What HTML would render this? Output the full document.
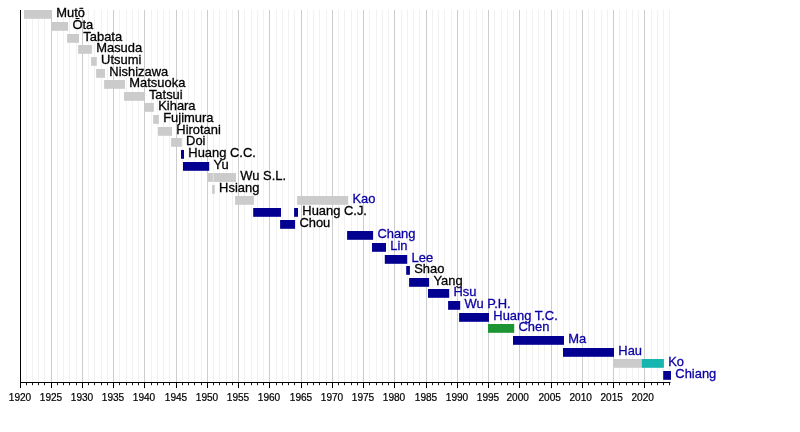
<!DOCTYPE html>
<html><head><meta charset="utf-8"><title>Timeline</title>
<style>
html,body{margin:0;padding:0;background:#fff;}
body{width:800px;height:432px;overflow:hidden;font-family:"Liberation Sans",sans-serif;}
svg{display:block;will-change:transform;}
.lb{font-family:"Liberation Sans",sans-serif;font-size:13.25px;stroke-width:0.3px;}
.ax{font-family:"Liberation Sans",sans-serif;font-size:10.1px;fill:#000;stroke:#000;stroke-width:0.2px;text-anchor:middle;}
</style></head><body>
<svg width="800" height="432" viewBox="0 0 800 432">
<rect width="800" height="432" fill="#fff"/>
<g>
<line x1="26.50" y1="10" x2="26.50" y2="382.5" stroke="#f1f1f1" stroke-width="1"/>
<line x1="32.50" y1="10" x2="32.50" y2="382.5" stroke="#f1f1f1" stroke-width="1"/>
<line x1="38.50" y1="10" x2="38.50" y2="382.5" stroke="#f1f1f1" stroke-width="1"/>
<line x1="44.50" y1="10" x2="44.50" y2="382.5" stroke="#f1f1f1" stroke-width="1"/>
<line x1="51.50" y1="10" x2="51.50" y2="382.5" stroke="#cdcdcd" stroke-width="1"/>
<line x1="57.50" y1="10" x2="57.50" y2="382.5" stroke="#f1f1f1" stroke-width="1"/>
<line x1="63.50" y1="10" x2="63.50" y2="382.5" stroke="#f1f1f1" stroke-width="1"/>
<line x1="69.50" y1="10" x2="69.50" y2="382.5" stroke="#f1f1f1" stroke-width="1"/>
<line x1="76.50" y1="10" x2="76.50" y2="382.5" stroke="#f1f1f1" stroke-width="1"/>
<line x1="82.50" y1="10" x2="82.50" y2="382.5" stroke="#cdcdcd" stroke-width="1"/>
<line x1="88.50" y1="10" x2="88.50" y2="382.5" stroke="#f1f1f1" stroke-width="1"/>
<line x1="94.50" y1="10" x2="94.50" y2="382.5" stroke="#f1f1f1" stroke-width="1"/>
<line x1="101.50" y1="10" x2="101.50" y2="382.5" stroke="#f1f1f1" stroke-width="1"/>
<line x1="107.50" y1="10" x2="107.50" y2="382.5" stroke="#f1f1f1" stroke-width="1"/>
<line x1="113.50" y1="10" x2="113.50" y2="382.5" stroke="#cdcdcd" stroke-width="1"/>
<line x1="119.50" y1="10" x2="119.50" y2="382.5" stroke="#f1f1f1" stroke-width="1"/>
<line x1="126.50" y1="10" x2="126.50" y2="382.5" stroke="#f1f1f1" stroke-width="1"/>
<line x1="132.50" y1="10" x2="132.50" y2="382.5" stroke="#f1f1f1" stroke-width="1"/>
<line x1="138.50" y1="10" x2="138.50" y2="382.5" stroke="#f1f1f1" stroke-width="1"/>
<line x1="144.50" y1="10" x2="144.50" y2="382.5" stroke="#cdcdcd" stroke-width="1"/>
<line x1="151.50" y1="10" x2="151.50" y2="382.5" stroke="#f1f1f1" stroke-width="1"/>
<line x1="157.50" y1="10" x2="157.50" y2="382.5" stroke="#f1f1f1" stroke-width="1"/>
<line x1="163.50" y1="10" x2="163.50" y2="382.5" stroke="#f1f1f1" stroke-width="1"/>
<line x1="169.50" y1="10" x2="169.50" y2="382.5" stroke="#f1f1f1" stroke-width="1"/>
<line x1="176.50" y1="10" x2="176.50" y2="382.5" stroke="#cdcdcd" stroke-width="1"/>
<line x1="182.50" y1="10" x2="182.50" y2="382.5" stroke="#f1f1f1" stroke-width="1"/>
<line x1="188.50" y1="10" x2="188.50" y2="382.5" stroke="#f1f1f1" stroke-width="1"/>
<line x1="194.50" y1="10" x2="194.50" y2="382.5" stroke="#f1f1f1" stroke-width="1"/>
<line x1="201.50" y1="10" x2="201.50" y2="382.5" stroke="#f1f1f1" stroke-width="1"/>
<line x1="207.50" y1="10" x2="207.50" y2="382.5" stroke="#cdcdcd" stroke-width="1"/>
<line x1="213.50" y1="10" x2="213.50" y2="382.5" stroke="#f1f1f1" stroke-width="1"/>
<line x1="219.50" y1="10" x2="219.50" y2="382.5" stroke="#f1f1f1" stroke-width="1"/>
<line x1="226.50" y1="10" x2="226.50" y2="382.5" stroke="#f1f1f1" stroke-width="1"/>
<line x1="232.50" y1="10" x2="232.50" y2="382.5" stroke="#f1f1f1" stroke-width="1"/>
<line x1="238.50" y1="10" x2="238.50" y2="382.5" stroke="#cdcdcd" stroke-width="1"/>
<line x1="244.50" y1="10" x2="244.50" y2="382.5" stroke="#f1f1f1" stroke-width="1"/>
<line x1="251.50" y1="10" x2="251.50" y2="382.5" stroke="#f1f1f1" stroke-width="1"/>
<line x1="257.50" y1="10" x2="257.50" y2="382.5" stroke="#f1f1f1" stroke-width="1"/>
<line x1="263.50" y1="10" x2="263.50" y2="382.5" stroke="#f1f1f1" stroke-width="1"/>
<line x1="269.50" y1="10" x2="269.50" y2="382.5" stroke="#cdcdcd" stroke-width="1"/>
<line x1="276.50" y1="10" x2="276.50" y2="382.5" stroke="#f1f1f1" stroke-width="1"/>
<line x1="282.50" y1="10" x2="282.50" y2="382.5" stroke="#f1f1f1" stroke-width="1"/>
<line x1="288.50" y1="10" x2="288.50" y2="382.5" stroke="#f1f1f1" stroke-width="1"/>
<line x1="294.50" y1="10" x2="294.50" y2="382.5" stroke="#f1f1f1" stroke-width="1"/>
<line x1="301.50" y1="10" x2="301.50" y2="382.5" stroke="#cdcdcd" stroke-width="1"/>
<line x1="307.50" y1="10" x2="307.50" y2="382.5" stroke="#f1f1f1" stroke-width="1"/>
<line x1="313.50" y1="10" x2="313.50" y2="382.5" stroke="#f1f1f1" stroke-width="1"/>
<line x1="319.50" y1="10" x2="319.50" y2="382.5" stroke="#f1f1f1" stroke-width="1"/>
<line x1="326.50" y1="10" x2="326.50" y2="382.5" stroke="#f1f1f1" stroke-width="1"/>
<line x1="332.50" y1="10" x2="332.50" y2="382.5" stroke="#cdcdcd" stroke-width="1"/>
<line x1="338.50" y1="10" x2="338.50" y2="382.5" stroke="#f1f1f1" stroke-width="1"/>
<line x1="344.50" y1="10" x2="344.50" y2="382.5" stroke="#f1f1f1" stroke-width="1"/>
<line x1="351.50" y1="10" x2="351.50" y2="382.5" stroke="#f1f1f1" stroke-width="1"/>
<line x1="357.50" y1="10" x2="357.50" y2="382.5" stroke="#f1f1f1" stroke-width="1"/>
<line x1="363.50" y1="10" x2="363.50" y2="382.5" stroke="#cdcdcd" stroke-width="1"/>
<line x1="369.50" y1="10" x2="369.50" y2="382.5" stroke="#f1f1f1" stroke-width="1"/>
<line x1="376.50" y1="10" x2="376.50" y2="382.5" stroke="#f1f1f1" stroke-width="1"/>
<line x1="382.50" y1="10" x2="382.50" y2="382.5" stroke="#f1f1f1" stroke-width="1"/>
<line x1="388.50" y1="10" x2="388.50" y2="382.5" stroke="#f1f1f1" stroke-width="1"/>
<line x1="394.50" y1="10" x2="394.50" y2="382.5" stroke="#cdcdcd" stroke-width="1"/>
<line x1="401.50" y1="10" x2="401.50" y2="382.5" stroke="#f1f1f1" stroke-width="1"/>
<line x1="407.50" y1="10" x2="407.50" y2="382.5" stroke="#f1f1f1" stroke-width="1"/>
<line x1="413.50" y1="10" x2="413.50" y2="382.5" stroke="#f1f1f1" stroke-width="1"/>
<line x1="419.50" y1="10" x2="419.50" y2="382.5" stroke="#f1f1f1" stroke-width="1"/>
<line x1="426.50" y1="10" x2="426.50" y2="382.5" stroke="#cdcdcd" stroke-width="1"/>
<line x1="432.50" y1="10" x2="432.50" y2="382.5" stroke="#f1f1f1" stroke-width="1"/>
<line x1="438.50" y1="10" x2="438.50" y2="382.5" stroke="#f1f1f1" stroke-width="1"/>
<line x1="444.50" y1="10" x2="444.50" y2="382.5" stroke="#f1f1f1" stroke-width="1"/>
<line x1="451.50" y1="10" x2="451.50" y2="382.5" stroke="#f1f1f1" stroke-width="1"/>
<line x1="457.50" y1="10" x2="457.50" y2="382.5" stroke="#cdcdcd" stroke-width="1"/>
<line x1="463.50" y1="10" x2="463.50" y2="382.5" stroke="#f1f1f1" stroke-width="1"/>
<line x1="469.50" y1="10" x2="469.50" y2="382.5" stroke="#f1f1f1" stroke-width="1"/>
<line x1="476.50" y1="10" x2="476.50" y2="382.5" stroke="#f1f1f1" stroke-width="1"/>
<line x1="482.50" y1="10" x2="482.50" y2="382.5" stroke="#f1f1f1" stroke-width="1"/>
<line x1="488.50" y1="10" x2="488.50" y2="382.5" stroke="#cdcdcd" stroke-width="1"/>
<line x1="494.50" y1="10" x2="494.50" y2="382.5" stroke="#f1f1f1" stroke-width="1"/>
<line x1="501.50" y1="10" x2="501.50" y2="382.5" stroke="#f1f1f1" stroke-width="1"/>
<line x1="507.50" y1="10" x2="507.50" y2="382.5" stroke="#f1f1f1" stroke-width="1"/>
<line x1="513.50" y1="10" x2="513.50" y2="382.5" stroke="#f1f1f1" stroke-width="1"/>
<line x1="519.50" y1="10" x2="519.50" y2="382.5" stroke="#cdcdcd" stroke-width="1"/>
<line x1="526.50" y1="10" x2="526.50" y2="382.5" stroke="#f1f1f1" stroke-width="1"/>
<line x1="532.50" y1="10" x2="532.50" y2="382.5" stroke="#f1f1f1" stroke-width="1"/>
<line x1="538.50" y1="10" x2="538.50" y2="382.5" stroke="#f1f1f1" stroke-width="1"/>
<line x1="544.50" y1="10" x2="544.50" y2="382.5" stroke="#f1f1f1" stroke-width="1"/>
<line x1="551.50" y1="10" x2="551.50" y2="382.5" stroke="#cdcdcd" stroke-width="1"/>
<line x1="557.50" y1="10" x2="557.50" y2="382.5" stroke="#f1f1f1" stroke-width="1"/>
<line x1="563.50" y1="10" x2="563.50" y2="382.5" stroke="#f1f1f1" stroke-width="1"/>
<line x1="569.50" y1="10" x2="569.50" y2="382.5" stroke="#f1f1f1" stroke-width="1"/>
<line x1="576.50" y1="10" x2="576.50" y2="382.5" stroke="#f1f1f1" stroke-width="1"/>
<line x1="582.50" y1="10" x2="582.50" y2="382.5" stroke="#cdcdcd" stroke-width="1"/>
<line x1="588.50" y1="10" x2="588.50" y2="382.5" stroke="#f1f1f1" stroke-width="1"/>
<line x1="594.50" y1="10" x2="594.50" y2="382.5" stroke="#f1f1f1" stroke-width="1"/>
<line x1="601.50" y1="10" x2="601.50" y2="382.5" stroke="#f1f1f1" stroke-width="1"/>
<line x1="607.50" y1="10" x2="607.50" y2="382.5" stroke="#f1f1f1" stroke-width="1"/>
<line x1="613.50" y1="10" x2="613.50" y2="382.5" stroke="#cdcdcd" stroke-width="1"/>
<line x1="619.50" y1="10" x2="619.50" y2="382.5" stroke="#f1f1f1" stroke-width="1"/>
<line x1="626.50" y1="10" x2="626.50" y2="382.5" stroke="#f1f1f1" stroke-width="1"/>
<line x1="632.50" y1="10" x2="632.50" y2="382.5" stroke="#f1f1f1" stroke-width="1"/>
<line x1="638.50" y1="10" x2="638.50" y2="382.5" stroke="#f1f1f1" stroke-width="1"/>
<line x1="644.50" y1="10" x2="644.50" y2="382.5" stroke="#cdcdcd" stroke-width="1"/>
<line x1="651.50" y1="10" x2="651.50" y2="382.5" stroke="#f1f1f1" stroke-width="1"/>
<line x1="657.50" y1="10" x2="657.50" y2="382.5" stroke="#f1f1f1" stroke-width="1"/>
<line x1="663.50" y1="10" x2="663.50" y2="382.5" stroke="#f1f1f1" stroke-width="1"/>
<line x1="669.50" y1="10" x2="669.50" y2="382.5" stroke="#f1f1f1" stroke-width="1"/>
</g>
<g>
<rect x="24.00" y="10.00" width="28.00" height="8.80" fill="#cbcbcb"/>
<rect x="51.50" y="22.00" width="16.60" height="8.80" fill="#cbcbcb"/>
<rect x="67.10" y="34.00" width="11.90" height="8.80" fill="#cbcbcb"/>
<rect x="78.10" y="45.00" width="13.80" height="8.80" fill="#cbcbcb"/>
<rect x="91.10" y="57.00" width="5.70" height="8.80" fill="#cbcbcb"/>
<rect x="96.10" y="69.00" width="8.90" height="8.80" fill="#cbcbcb"/>
<rect x="104.10" y="80.00" width="20.90" height="8.80" fill="#cbcbcb"/>
<rect x="124.00" y="92.00" width="20.60" height="8.80" fill="#cbcbcb"/>
<rect x="144.10" y="103.00" width="9.80" height="8.80" fill="#cbcbcb"/>
<rect x="153.20" y="115.00" width="5.70" height="8.80" fill="#cbcbcb"/>
<rect x="158.00" y="127.00" width="14.00" height="8.80" fill="#cbcbcb"/>
<rect x="171.10" y="138.00" width="10.70" height="8.80" fill="#cbcbcb"/>
<rect x="181.00" y="150.00" width="3.00" height="8.80" fill="#030091"/>
<rect x="183.00" y="162.00" width="26.20" height="8.80" fill="#030091"/>
<rect x="207.30" y="173.00" width="28.70" height="8.80" fill="#dcdcdc"/>
<rect x="207.30" y="173.00" width="5.40" height="8.80" fill="#cbcbcb"/>
<rect x="214.00" y="173.00" width="22.00" height="8.80" fill="#cbcbcb"/>
<rect x="212.10" y="185.00" width="2.70" height="8.80" fill="#cbcbcb"/>
<rect x="235.10" y="196.00" width="18.80" height="8.80" fill="#cbcbcb"/>
<rect x="297.10" y="196.00" width="51.10" height="8.80" fill="#cbcbcb"/>
<rect x="253.20" y="208.00" width="27.80" height="8.80" fill="#030091"/>
<rect x="294.10" y="208.00" width="3.90" height="8.80" fill="#030091"/>
<rect x="280.10" y="220.00" width="15.00" height="8.80" fill="#030091"/>
<rect x="347.10" y="231.00" width="26.00" height="8.80" fill="#030091"/>
<rect x="372.00" y="243.00" width="14.00" height="8.80" fill="#030091"/>
<rect x="384.80" y="255.00" width="22.40" height="8.80" fill="#030091"/>
<rect x="406.20" y="266.00" width="3.70" height="8.80" fill="#030091"/>
<rect x="409.10" y="278.00" width="20.00" height="8.80" fill="#030091"/>
<rect x="428.00" y="289.00" width="21.20" height="8.80" fill="#030091"/>
<rect x="448.10" y="301.00" width="12.10" height="8.80" fill="#030091"/>
<rect x="459.10" y="313.00" width="29.90" height="8.80" fill="#030091"/>
<rect x="488.00" y="324.00" width="26.20" height="8.80" fill="#1d9534"/>
<rect x="513.00" y="336.00" width="51.00" height="8.80" fill="#030091"/>
<rect x="563.00" y="348.00" width="51.00" height="8.80" fill="#030091"/>
<rect x="613.00" y="359.00" width="28.70" height="8.80" fill="#cbcbcb"/>
<rect x="641.70" y="359.00" width="22.20" height="8.80" fill="#17b5b0"/>
<rect x="663.20" y="371.00" width="7.80" height="8.80" fill="#030091"/>
</g>
<g class="lb">
<text transform="translate(56.30 17.30) scale(0.977 1)" fill="#000" stroke="#000">Mutō</text>
<text transform="translate(72.40 29.30) scale(0.977 1)" fill="#000" stroke="#000">Ōta</text>
<text transform="translate(83.30 41.30) scale(0.977 1)" fill="#000" stroke="#000">Tabata</text>
<text transform="translate(96.20 52.30) scale(0.977 1)" fill="#000" stroke="#000">Masuda</text>
<text transform="translate(101.10 64.30) scale(0.977 1)" fill="#000" stroke="#000">Utsumi</text>
<text transform="translate(109.30 76.30) scale(0.977 1)" fill="#000" stroke="#000">Nishizawa</text>
<text transform="translate(129.30 87.30) scale(0.977 1)" fill="#000" stroke="#000">Matsuoka</text>
<text transform="translate(148.90 99.30) scale(0.977 1)" fill="#000" stroke="#000">Tatsui</text>
<text transform="translate(158.20 110.30) scale(0.977 1)" fill="#000" stroke="#000">Kihara</text>
<text transform="translate(163.20 122.30) scale(0.977 1)" fill="#000" stroke="#000">Fujimura</text>
<text transform="translate(176.30 134.30) scale(0.977 1)" fill="#000" stroke="#000">Hirotani</text>
<text transform="translate(186.10 145.30) scale(0.977 1)" fill="#000" stroke="#000">Doi</text>
<text transform="translate(188.30 157.30) scale(0.977 1)" fill="#000" stroke="#000">Huang C.C.</text>
<text transform="translate(213.50 169.30) scale(0.977 1)" fill="#000" stroke="#000">Yu</text>
<text transform="translate(240.30 180.30) scale(0.977 1)" fill="#000" stroke="#000">Wu S.L.</text>
<text transform="translate(219.10 192.30) scale(0.977 1)" fill="#000" stroke="#000">Hsiang</text>
<text transform="translate(352.50 203.30) scale(0.977 1)" fill="#0c00a4" stroke="#0c00a4">Kao</text>
<text transform="translate(302.30 215.30) scale(0.977 1)" fill="#000" stroke="#000">Huang C.J.</text>
<text transform="translate(299.40 227.30) scale(0.977 1)" fill="#000" stroke="#000">Chou</text>
<text transform="translate(377.40 238.30) scale(0.977 1)" fill="#0c00a4" stroke="#0c00a4">Chang</text>
<text transform="translate(390.30 250.30) scale(0.977 1)" fill="#0c00a4" stroke="#0c00a4">Lin</text>
<text transform="translate(411.50 262.30) scale(0.977 1)" fill="#0c00a4" stroke="#0c00a4">Lee</text>
<text transform="translate(414.20 273.30) scale(0.977 1)" fill="#000" stroke="#000">Shao</text>
<text transform="translate(433.40 285.30) scale(0.977 1)" fill="#000" stroke="#000">Yang</text>
<text transform="translate(453.50 296.30) scale(0.977 1)" fill="#0c00a4" stroke="#0c00a4">Hsu</text>
<text transform="translate(464.50 308.30) scale(0.977 1)" fill="#0c00a4" stroke="#0c00a4">Wu P.H.</text>
<text transform="translate(493.30 320.30) scale(0.977 1)" fill="#0c00a4" stroke="#0c00a4">Huang T.C.</text>
<text transform="translate(518.50 331.30) scale(0.977 1)" fill="#0c00a4" stroke="#0c00a4">Chen</text>
<text transform="translate(568.30 343.30) scale(0.977 1)" fill="#0c00a4" stroke="#0c00a4">Ma</text>
<text transform="translate(618.30 355.30) scale(0.977 1)" fill="#0c00a4" stroke="#0c00a4">Hau</text>
<text transform="translate(668.20 366.30) scale(0.977 1)" fill="#0c00a4" stroke="#0c00a4">Ko</text>
<text transform="translate(675.30 378.30) scale(0.977 1)" fill="#0c00a4" stroke="#0c00a4">Chiang</text>
</g>
<g stroke="#000" stroke-width="1">
<line x1="20.50" y1="10" x2="20.50" y2="388.10"/>
<line x1="20.00" y1="382.50" x2="670.50" y2="382.50"/>
<line x1="26.50" y1="382.50" x2="26.50" y2="385.20" stroke-width="0.9"/>
<line x1="32.50" y1="382.50" x2="32.50" y2="385.20" stroke-width="0.9"/>
<line x1="38.50" y1="382.50" x2="38.50" y2="385.20" stroke-width="0.9"/>
<line x1="44.50" y1="382.50" x2="44.50" y2="385.20" stroke-width="0.9"/>
<line x1="51.50" y1="382.50" x2="51.50" y2="388.10" stroke-width="1.0"/>
<line x1="57.50" y1="382.50" x2="57.50" y2="385.20" stroke-width="0.9"/>
<line x1="63.50" y1="382.50" x2="63.50" y2="385.20" stroke-width="0.9"/>
<line x1="69.50" y1="382.50" x2="69.50" y2="385.20" stroke-width="0.9"/>
<line x1="76.50" y1="382.50" x2="76.50" y2="385.20" stroke-width="0.9"/>
<line x1="82.50" y1="382.50" x2="82.50" y2="388.10" stroke-width="1.0"/>
<line x1="88.50" y1="382.50" x2="88.50" y2="385.20" stroke-width="0.9"/>
<line x1="94.50" y1="382.50" x2="94.50" y2="385.20" stroke-width="0.9"/>
<line x1="101.50" y1="382.50" x2="101.50" y2="385.20" stroke-width="0.9"/>
<line x1="107.50" y1="382.50" x2="107.50" y2="385.20" stroke-width="0.9"/>
<line x1="113.50" y1="382.50" x2="113.50" y2="388.10" stroke-width="1.0"/>
<line x1="119.50" y1="382.50" x2="119.50" y2="385.20" stroke-width="0.9"/>
<line x1="126.50" y1="382.50" x2="126.50" y2="385.20" stroke-width="0.9"/>
<line x1="132.50" y1="382.50" x2="132.50" y2="385.20" stroke-width="0.9"/>
<line x1="138.50" y1="382.50" x2="138.50" y2="385.20" stroke-width="0.9"/>
<line x1="144.50" y1="382.50" x2="144.50" y2="388.10" stroke-width="1.0"/>
<line x1="151.50" y1="382.50" x2="151.50" y2="385.20" stroke-width="0.9"/>
<line x1="157.50" y1="382.50" x2="157.50" y2="385.20" stroke-width="0.9"/>
<line x1="163.50" y1="382.50" x2="163.50" y2="385.20" stroke-width="0.9"/>
<line x1="169.50" y1="382.50" x2="169.50" y2="385.20" stroke-width="0.9"/>
<line x1="176.50" y1="382.50" x2="176.50" y2="388.10" stroke-width="1.0"/>
<line x1="182.50" y1="382.50" x2="182.50" y2="385.20" stroke-width="0.9"/>
<line x1="188.50" y1="382.50" x2="188.50" y2="385.20" stroke-width="0.9"/>
<line x1="194.50" y1="382.50" x2="194.50" y2="385.20" stroke-width="0.9"/>
<line x1="201.50" y1="382.50" x2="201.50" y2="385.20" stroke-width="0.9"/>
<line x1="207.50" y1="382.50" x2="207.50" y2="388.10" stroke-width="1.0"/>
<line x1="213.50" y1="382.50" x2="213.50" y2="385.20" stroke-width="0.9"/>
<line x1="219.50" y1="382.50" x2="219.50" y2="385.20" stroke-width="0.9"/>
<line x1="226.50" y1="382.50" x2="226.50" y2="385.20" stroke-width="0.9"/>
<line x1="232.50" y1="382.50" x2="232.50" y2="385.20" stroke-width="0.9"/>
<line x1="238.50" y1="382.50" x2="238.50" y2="388.10" stroke-width="1.0"/>
<line x1="244.50" y1="382.50" x2="244.50" y2="385.20" stroke-width="0.9"/>
<line x1="251.50" y1="382.50" x2="251.50" y2="385.20" stroke-width="0.9"/>
<line x1="257.50" y1="382.50" x2="257.50" y2="385.20" stroke-width="0.9"/>
<line x1="263.50" y1="382.50" x2="263.50" y2="385.20" stroke-width="0.9"/>
<line x1="269.50" y1="382.50" x2="269.50" y2="388.10" stroke-width="1.0"/>
<line x1="276.50" y1="382.50" x2="276.50" y2="385.20" stroke-width="0.9"/>
<line x1="282.50" y1="382.50" x2="282.50" y2="385.20" stroke-width="0.9"/>
<line x1="288.50" y1="382.50" x2="288.50" y2="385.20" stroke-width="0.9"/>
<line x1="294.50" y1="382.50" x2="294.50" y2="385.20" stroke-width="0.9"/>
<line x1="301.50" y1="382.50" x2="301.50" y2="388.10" stroke-width="1.0"/>
<line x1="307.50" y1="382.50" x2="307.50" y2="385.20" stroke-width="0.9"/>
<line x1="313.50" y1="382.50" x2="313.50" y2="385.20" stroke-width="0.9"/>
<line x1="319.50" y1="382.50" x2="319.50" y2="385.20" stroke-width="0.9"/>
<line x1="326.50" y1="382.50" x2="326.50" y2="385.20" stroke-width="0.9"/>
<line x1="332.50" y1="382.50" x2="332.50" y2="388.10" stroke-width="1.0"/>
<line x1="338.50" y1="382.50" x2="338.50" y2="385.20" stroke-width="0.9"/>
<line x1="344.50" y1="382.50" x2="344.50" y2="385.20" stroke-width="0.9"/>
<line x1="351.50" y1="382.50" x2="351.50" y2="385.20" stroke-width="0.9"/>
<line x1="357.50" y1="382.50" x2="357.50" y2="385.20" stroke-width="0.9"/>
<line x1="363.50" y1="382.50" x2="363.50" y2="388.10" stroke-width="1.0"/>
<line x1="369.50" y1="382.50" x2="369.50" y2="385.20" stroke-width="0.9"/>
<line x1="376.50" y1="382.50" x2="376.50" y2="385.20" stroke-width="0.9"/>
<line x1="382.50" y1="382.50" x2="382.50" y2="385.20" stroke-width="0.9"/>
<line x1="388.50" y1="382.50" x2="388.50" y2="385.20" stroke-width="0.9"/>
<line x1="394.50" y1="382.50" x2="394.50" y2="388.10" stroke-width="1.0"/>
<line x1="401.50" y1="382.50" x2="401.50" y2="385.20" stroke-width="0.9"/>
<line x1="407.50" y1="382.50" x2="407.50" y2="385.20" stroke-width="0.9"/>
<line x1="413.50" y1="382.50" x2="413.50" y2="385.20" stroke-width="0.9"/>
<line x1="419.50" y1="382.50" x2="419.50" y2="385.20" stroke-width="0.9"/>
<line x1="426.50" y1="382.50" x2="426.50" y2="388.10" stroke-width="1.0"/>
<line x1="432.50" y1="382.50" x2="432.50" y2="385.20" stroke-width="0.9"/>
<line x1="438.50" y1="382.50" x2="438.50" y2="385.20" stroke-width="0.9"/>
<line x1="444.50" y1="382.50" x2="444.50" y2="385.20" stroke-width="0.9"/>
<line x1="451.50" y1="382.50" x2="451.50" y2="385.20" stroke-width="0.9"/>
<line x1="457.50" y1="382.50" x2="457.50" y2="388.10" stroke-width="1.0"/>
<line x1="463.50" y1="382.50" x2="463.50" y2="385.20" stroke-width="0.9"/>
<line x1="469.50" y1="382.50" x2="469.50" y2="385.20" stroke-width="0.9"/>
<line x1="476.50" y1="382.50" x2="476.50" y2="385.20" stroke-width="0.9"/>
<line x1="482.50" y1="382.50" x2="482.50" y2="385.20" stroke-width="0.9"/>
<line x1="488.50" y1="382.50" x2="488.50" y2="388.10" stroke-width="1.0"/>
<line x1="494.50" y1="382.50" x2="494.50" y2="385.20" stroke-width="0.9"/>
<line x1="501.50" y1="382.50" x2="501.50" y2="385.20" stroke-width="0.9"/>
<line x1="507.50" y1="382.50" x2="507.50" y2="385.20" stroke-width="0.9"/>
<line x1="513.50" y1="382.50" x2="513.50" y2="385.20" stroke-width="0.9"/>
<line x1="519.50" y1="382.50" x2="519.50" y2="388.10" stroke-width="1.0"/>
<line x1="526.50" y1="382.50" x2="526.50" y2="385.20" stroke-width="0.9"/>
<line x1="532.50" y1="382.50" x2="532.50" y2="385.20" stroke-width="0.9"/>
<line x1="538.50" y1="382.50" x2="538.50" y2="385.20" stroke-width="0.9"/>
<line x1="544.50" y1="382.50" x2="544.50" y2="385.20" stroke-width="0.9"/>
<line x1="551.50" y1="382.50" x2="551.50" y2="388.10" stroke-width="1.0"/>
<line x1="557.50" y1="382.50" x2="557.50" y2="385.20" stroke-width="0.9"/>
<line x1="563.50" y1="382.50" x2="563.50" y2="385.20" stroke-width="0.9"/>
<line x1="569.50" y1="382.50" x2="569.50" y2="385.20" stroke-width="0.9"/>
<line x1="576.50" y1="382.50" x2="576.50" y2="385.20" stroke-width="0.9"/>
<line x1="582.50" y1="382.50" x2="582.50" y2="388.10" stroke-width="1.0"/>
<line x1="588.50" y1="382.50" x2="588.50" y2="385.20" stroke-width="0.9"/>
<line x1="594.50" y1="382.50" x2="594.50" y2="385.20" stroke-width="0.9"/>
<line x1="601.50" y1="382.50" x2="601.50" y2="385.20" stroke-width="0.9"/>
<line x1="607.50" y1="382.50" x2="607.50" y2="385.20" stroke-width="0.9"/>
<line x1="613.50" y1="382.50" x2="613.50" y2="388.10" stroke-width="1.0"/>
<line x1="619.50" y1="382.50" x2="619.50" y2="385.20" stroke-width="0.9"/>
<line x1="626.50" y1="382.50" x2="626.50" y2="385.20" stroke-width="0.9"/>
<line x1="632.50" y1="382.50" x2="632.50" y2="385.20" stroke-width="0.9"/>
<line x1="638.50" y1="382.50" x2="638.50" y2="385.20" stroke-width="0.9"/>
<line x1="644.50" y1="382.50" x2="644.50" y2="388.10" stroke-width="1.0"/>
<line x1="651.50" y1="382.50" x2="651.50" y2="385.20" stroke-width="0.9"/>
<line x1="657.50" y1="382.50" x2="657.50" y2="385.20" stroke-width="0.9"/>
<line x1="663.50" y1="382.50" x2="663.50" y2="385.20" stroke-width="0.9"/>
<line x1="669.50" y1="382.50" x2="669.50" y2="385.20" stroke-width="0.9"/>
</g>
<g class="ax">
<text x="20.00" y="400.7">1920</text>
<text x="51.00" y="400.7">1925</text>
<text x="82.00" y="400.7">1930</text>
<text x="113.00" y="400.7">1935</text>
<text x="144.00" y="400.7">1940</text>
<text x="176.00" y="400.7">1945</text>
<text x="207.00" y="400.7">1950</text>
<text x="238.00" y="400.7">1955</text>
<text x="269.00" y="400.7">1960</text>
<text x="301.00" y="400.7">1965</text>
<text x="332.00" y="400.7">1970</text>
<text x="363.00" y="400.7">1975</text>
<text x="394.00" y="400.7">1980</text>
<text x="426.00" y="400.7">1985</text>
<text x="457.00" y="400.7">1990</text>
<text x="488.00" y="400.7">1995</text>
<text x="517.70" y="400.7">2000</text>
<text x="549.70" y="400.7">2005</text>
<text x="580.70" y="400.7">2010</text>
<text x="611.70" y="400.7">2015</text>
<text x="642.70" y="400.7">2020</text>
</g>
</svg>
</body></html>
